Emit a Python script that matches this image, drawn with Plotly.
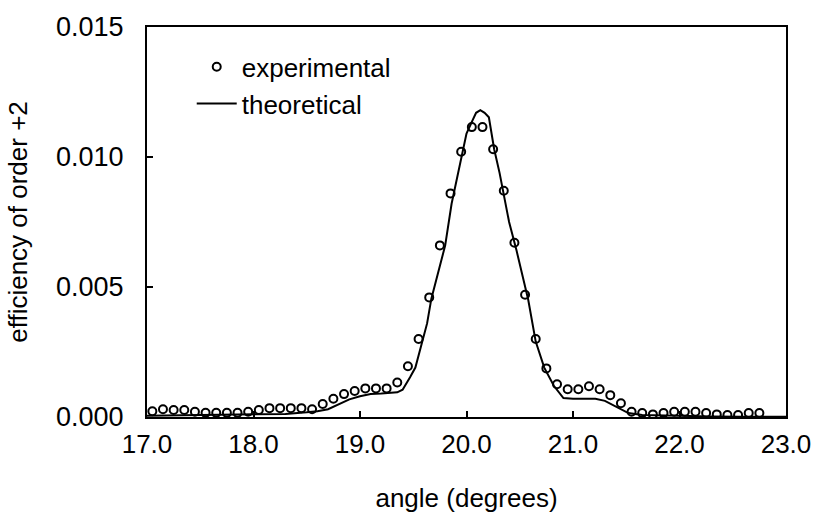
import plotly.graph_objects as go

# Measured diffraction efficiency of the +2 order versus incidence angle
exp_angle = [17.05, 17.15, 17.25, 17.35, 17.45, 17.55, 17.65, 17.75, 17.85, 17.95,
             18.05, 18.15, 18.25, 18.35, 18.45, 18.55, 18.65, 18.75, 18.85, 18.95,
             19.05, 19.15, 19.25, 19.35, 19.45, 19.55, 19.65, 19.75, 19.85, 19.95,
             20.05, 20.15, 20.25, 20.35, 20.45, 20.55, 20.65, 20.75, 20.85, 20.95,
             21.05, 21.15, 21.25, 21.35, 21.45, 21.55, 21.65, 21.75, 21.85, 21.95,
             22.05, 22.15, 22.25, 22.35, 22.45, 22.55, 22.65, 22.75]
exp_eff = [0.00022, 0.00030, 0.00027, 0.00027, 0.00020, 0.00016, 0.00016, 0.00016, 0.00016, 0.00020,
           0.00027, 0.00034, 0.00034, 0.00034, 0.00034, 0.00030, 0.00050, 0.00070, 0.00088, 0.00100,
           0.00110, 0.00110, 0.00110, 0.00133, 0.00195, 0.00300, 0.00460, 0.00660, 0.00860, 0.01020,
           0.01115, 0.01115, 0.01030, 0.00870, 0.00670, 0.00470, 0.00300, 0.00187, 0.00126, 0.00107,
           0.00107, 0.00118, 0.00107, 0.00084, 0.00053, 0.00020, 0.00015, 0.00010, 0.00015, 0.00020,
           0.00020, 0.00020, 0.00015, 0.00010, 0.00008, 0.00008, 0.00015, 0.00015]

# Computed efficiency curve
theo_angle = [17.0, 17.5, 18.0, 18.3, 18.5, 18.6, 18.7, 18.8, 18.9, 19.0,
              19.1, 19.2, 19.3, 19.35, 19.4, 19.44, 19.47, 19.52, 19.58, 19.63,
              19.67, 19.74, 19.80, 19.86, 19.93, 20.0, 20.05, 20.09, 20.13, 20.17,
              20.21, 20.26, 20.31, 20.36, 20.40, 20.47, 20.52, 20.58, 20.65, 20.73,
              20.82, 20.91, 21.0, 21.1, 21.21, 21.3, 21.37, 21.45, 21.52, 21.65,
              21.8, 22.0, 22.3, 22.6, 23.0]
theo_eff = [0.00005, 0.00007, 0.00010, 0.00012, 0.00018, 0.00022, 0.00030, 0.00048, 0.00068, 0.00080,
            0.00088, 0.00090, 0.00092, 0.00095, 0.00105, 0.00130, 0.00153, 0.00190, 0.00280, 0.00360,
            0.00455, 0.00560, 0.00660, 0.00820, 0.00960, 0.01090, 0.01135, 0.01170, 0.01180, 0.01170,
            0.01153, 0.01030, 0.00940, 0.00840, 0.00750, 0.00640, 0.00550, 0.00450, 0.00290, 0.00190,
            0.00120, 0.00073, 0.00070, 0.00070, 0.00070, 0.00062, 0.00046, 0.00030, 0.00015, 0.00008,
            0.00006, 0.00005, 0.00002, 0.00001, 0.00001]

x_ticks = [17.0, 18.0, 19.0, 20.0, 21.0, 22.0, 23.0]
x_tick_text = ["17.0", "18.0", "19.0", "20.0", "21.0", "22.0", "23.0"]
y_ticks = [0.000, 0.005, 0.010, 0.015]
y_tick_text = ["0.000", "0.005", "0.010", "0.015"]

FONT = "Liberation Sans, Arial, Helvetica, sans-serif"

fig = go.Figure()
fig.add_trace(go.Scatter(
    x=exp_angle, y=exp_eff, mode="markers", name="experimental",
    marker=dict(symbol="circle-open", size=8, color="black", line=dict(width=2, color="black")),
))
fig.add_trace(go.Scatter(
    x=theo_angle, y=theo_eff, mode="lines", name="theoretical",
    line=dict(color="black", width=2),
))

axis_common = dict(
    showline=True, linecolor="black", linewidth=2, mirror=True,
    ticks="inside", ticklen=6, tickwidth=1.5, tickcolor="black",
    showgrid=False, zeroline=False,
)

fig.update_xaxes(
    range=[17.0, 23.0], tickvals=x_ticks, ticktext=x_tick_text,
    ticklabelstandoff=3,
    tickfont=dict(family=FONT, size=26, color="black"),
    title=dict(text="angle (degrees)", font=dict(family=FONT, size=26, color="black"), standoff=31),
    **axis_common,
)
fig.update_yaxes(
    range=[0.0, 0.015], tickvals=y_ticks, ticktext=y_tick_text,
    ticklabelstandoff=16,
    tickfont=dict(family=FONT, size=27, color="black"),
    title=dict(text="efficiency of order +2", font=dict(family=FONT, size=26, color="black"), standoff=21),
    **axis_common,
)

fig.update_layout(
    width=823, height=525,
    margin=dict(l=147, r=28, t=26, b=108),
    paper_bgcolor="white", plot_bgcolor="white",
    showlegend=True,
    legend=dict(
        x=0.07, y=0.958, xanchor="left", yanchor="top",
        bgcolor="rgba(0,0,0,0)", borderwidth=0,
        font=dict(family=FONT, size=26, color="black"),
        itemwidth=40, tracegroupgap=0,
    ),
)

fig.write_html("out.html")
